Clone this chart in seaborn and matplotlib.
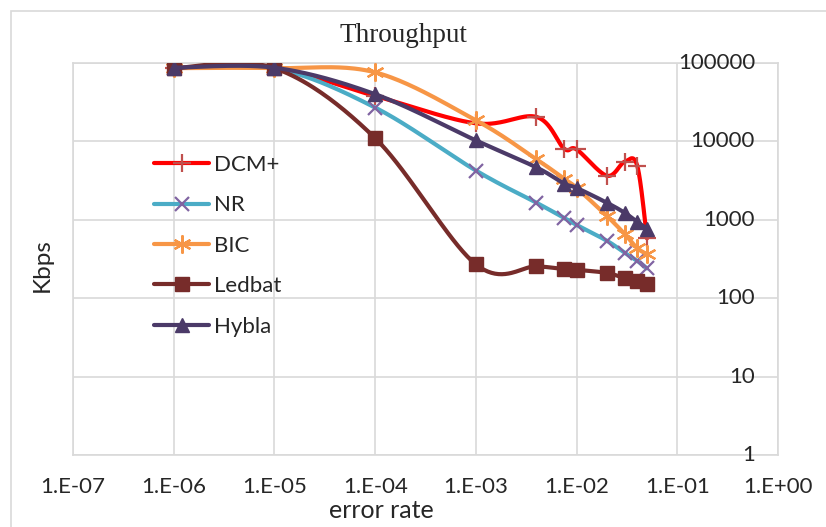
import numpy as np
import pandas as pd
import matplotlib
matplotlib.use("Agg")
import matplotlib.pyplot as plt
import matplotlib.transforms as mtransforms
from matplotlib.lines import Line2D
from matplotlib.patches import Rectangle
import seaborn as sns

# data
error_rate = [1e-6, 1e-5, 1e-4, 1e-3, 4e-3, 7.5e-3, 1e-2, 2e-2, 3e-2, 4e-2, 5e-2]
dcm = [86000, 86000, 38000, 17000, 20500, 8100, 7900, 3650, 5500, 4900, 580]
nr = [86000, 86000, 27000, 4250, 1650, 1060, 860, 540, 380, 300, 240]
bic = [86000, 86000, 76000, 18600, 5900, 3350, 2550, 1120, 660, 435, 365]
ledbat = [86000, 86000, 11000, 270, 255, 235, 230, 210, 180, 165, 150]
hybla = [87000, 87000, 40000, 10300, 4650, 2900, 2550, 1650, 1230, 940, 770]

xticks = [1e-7, 1e-6, 1e-5, 1e-4, 1e-3, 1e-2, 1e-1, 1]
xtick_labels = ["1.E-07", "1.E-06", "1.E-05", "1.E-04", "1.E-03", "1.E-02", "1.E-01", "1.E+00"]
yticks = [1, 10, 100, 1000, 10000, 100000]
ytick_labels = ["1", "10", "100", "1000", "10000", "100000"]

series = [
    # name, values, line color, marker, marker color, marker size, marker edge width
    ("DCM+", dcm, "#FF0000", "+", "#C0504D", 13, 1.6),
    ("NR", nr, "#4BACC6", "x", "#8064A2", 10, 1.6),
    ("BIC", bic, "#F79646", (6, 2, 0), "#F79646", 13, 1.6),
    ("Ledbat", ledbat, "#772C2A", "s", "#772C2A", 10, 1),
    ("Hybla", hybla, "#4B3A68", "^", "#4B3A68", 10, 1),
]


def smooth(x, y, n=40):
    # Excel-style smoothed line: Catmull-Rom bezier in log-log space
    lx, ly = np.log10(x), np.log10(y)
    px = np.concatenate([[lx[0]], lx, [lx[-1]]])
    py = np.concatenate([[ly[0]], ly, [ly[-1]]])
    t = np.linspace(0, 1, n)
    xs, ys = [], []
    for i in range(1, len(px) - 2):
        p0x, p1x, p2x, p3x = px[i - 1], px[i], px[i + 1], px[i + 2]
        p0y, p1y, p2y, p3y = py[i - 1], py[i], py[i + 1], py[i + 2]
        c1x, c1y = p1x + (p2x - p0x) / 6, p1y + (p2y - p0y) / 6
        c2x, c2y = p2x - (p3x - p1x) / 6, p2y - (p3y - p1y) / 6
        bx = (1 - t) ** 3 * p1x + 3 * (1 - t) ** 2 * t * c1x + 3 * (1 - t) * t ** 2 * c2x + t ** 3 * p2x
        by = (1 - t) ** 3 * p1y + 3 * (1 - t) ** 2 * t * c1y + 3 * (1 - t) * t ** 2 * c2y + t ** 3 * p2y
        xs.append(bx)
        ys.append(by)
    return 10 ** np.concatenate(xs), 10 ** np.concatenate(ys)


sns.set_style("white")
plt.rcParams["font.family"] = ["Lato", "DejaVu Sans"]

fig = plt.figure(figsize=(8.26, 5.27), dpi=100)
ax = fig.add_axes([73 / 826, 1 - 455 / 527, 705 / 826, 392 / 527])
ax.set_xscale("log")
ax.set_yscale("log")

# outer chart border
fig.patches.append(Rectangle((11 / 826, -0.1), 1.2, 1 - 11 / 527 + 0.1, transform=fig.transFigure,
                             fill=False, edgecolor="#D9D9D9", lw=1.2))

handles = []
for k, (name, vals, lc, mk, mc, ms, mew) in enumerate(series):
    sx, sy = smooth(np.array(error_rate), np.array(vals, dtype=float))
    curve = pd.DataFrame({"x": sx, "y": sy})
    sns.lineplot(data=curve, x="x", y="y", sort=False, estimator=None, color=lc, lw=3,
                 ax=ax, zorder=3 + 2 * k)
    ax.plot(error_rate, vals, ls="none", marker=mk, ms=ms, color=mc, mec=mc, mew=mew, zorder=4 + 2 * k)
    handles.append(Line2D([], [], color=lc, lw=3, marker=mk, ms=ms, mfc=mc, mec=mc, mew=mew))

ax.set_xlim(1e-7, 1)
ax.set_ylim(1, 100000)
ax.set_xlabel("")
ax.set_ylabel("")
ax.tick_params(axis="x", length=0, pad=16, labelsize=16)
ax.tick_params(axis="y", length=0, labelleft=False, labelright=False)
ax.set_xticks(xticks, xtick_labels)
ax.set_yticks(yticks)
ax.minorticks_off()
ax.grid(True, color="#D9D9D9", lw=1.2)
ax.set_axisbelow(True)
for sp in ax.spines.values():
    sp.set_color("#D9D9D9")
    sp.set_linewidth(1.2)

# value axis labels sit just inside the right edge, right-aligned (Excel layout)
ytrans = mtransforms.blended_transform_factory(ax.transAxes, ax.transData)
for val, lab in zip(yticks, ytick_labels):
    ax.text((755 - 73) / 705, val, lab, transform=ytrans, ha="right", va="center",
            fontsize=16, zorder=20, clip_on=False)

fig.text(403 / 826, 1 - 35 / 527, "Throughput", family="Liberation Serif", fontsize=19.5,
         ha="center", va="center")
fig.text(381 / 826, 1 - 511 / 527, "error rate", fontsize=18, ha="center", va="center")
fig.text(42 / 826, 1 - 265 / 527, "Kbps", fontsize=17.5, ha="center", va="center", rotation=90)

fig.legend(handles, [s[0] for s in series], loc="upper left",
           bbox_to_anchor=(145 / 826, 1 - 146 / 527), frameon=False, fontsize=16,
           handlelength=2.5, handletextpad=0.2, labelspacing=0.92, borderaxespad=0)

fig.savefig("out.png", dpi=100)
